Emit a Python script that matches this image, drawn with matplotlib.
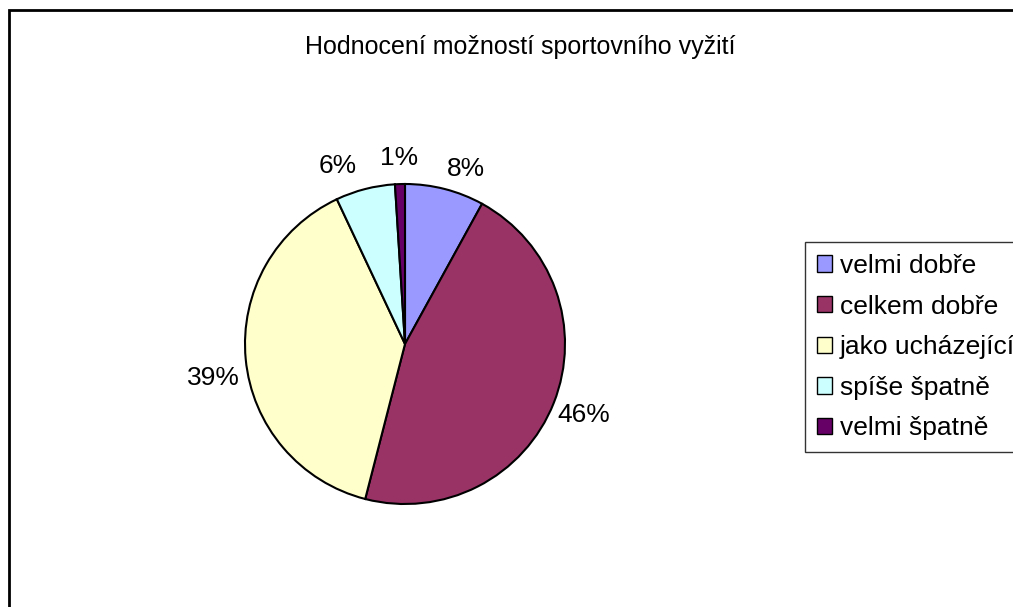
import matplotlib.pyplot as plt
from matplotlib.patches import Rectangle

plt.rcParams['font.family'] = ['Liberation Sans', 'DejaVu Sans']

categories = ["velmi dobře", "celkem dobře", "jako ucházející", "spíše špatně", "velmi špatně"]
values = [8, 46, 39, 6, 1]
colors = ["#9999FF", "#993366", "#FFFFCC", "#CCFFFF", "#660066"]

fig = plt.figure(figsize=(10.13, 6.07), dpi=100)

# outer chart border (right and bottom run off the image)
fig.patches.append(Rectangle((9 / 1013, -0.1), 1.2, 1.1 - 10 / 607, transform=fig.transFigure,
                             fill=False, edgecolor="black", linewidth=2))

fig.text(520 / 1013, 1 - 47 / 607, "Hodnocení možností sportovního vyžití",
         ha="center", va="center", fontsize=18)

ax = fig.add_axes([205 / 1013, 63 / 607, 400 / 1013, 400 / 607])
wedges, texts, autotexts = ax.pie(values, colors=colors, startangle=90, counterclock=False,
                                  autopct="%.0f%%", pctdistance=1.2,
                                  wedgeprops=dict(edgecolor="black", linewidth=1.5),
                                  textprops=dict(fontsize=19))
# nudge labels to where Excel put them (6% is pushed aside by the 1% label)
x, y = autotexts[0].get_position()
autotexts[0].set_position((x + 0.08, y - 0.07))
x, y = autotexts[2].get_position()
autotexts[2].set_position((x, y - 0.1))
x, y = autotexts[3].get_position()
autotexts[3].set_position((x - 0.12, y - 0.05))
x, y = autotexts[4].get_position()
autotexts[4].set_position((x, y - 0.04))

leg = fig.legend(wedges, categories, loc="upper left", bbox_to_anchor=(805 / 1013, 1 - 242 / 607),
                 fontsize=19, frameon=True, fancybox=False, edgecolor="black",
                 handlelength=0.57, handleheight=0.57, handletextpad=0.3,
                 labelspacing=0.63, borderpad=0.45, borderaxespad=0)
leg.get_frame().set_linewidth(1)
for h in leg.legend_handles:
    h.set_linewidth(1)

fig.savefig("out.png", dpi=100)
